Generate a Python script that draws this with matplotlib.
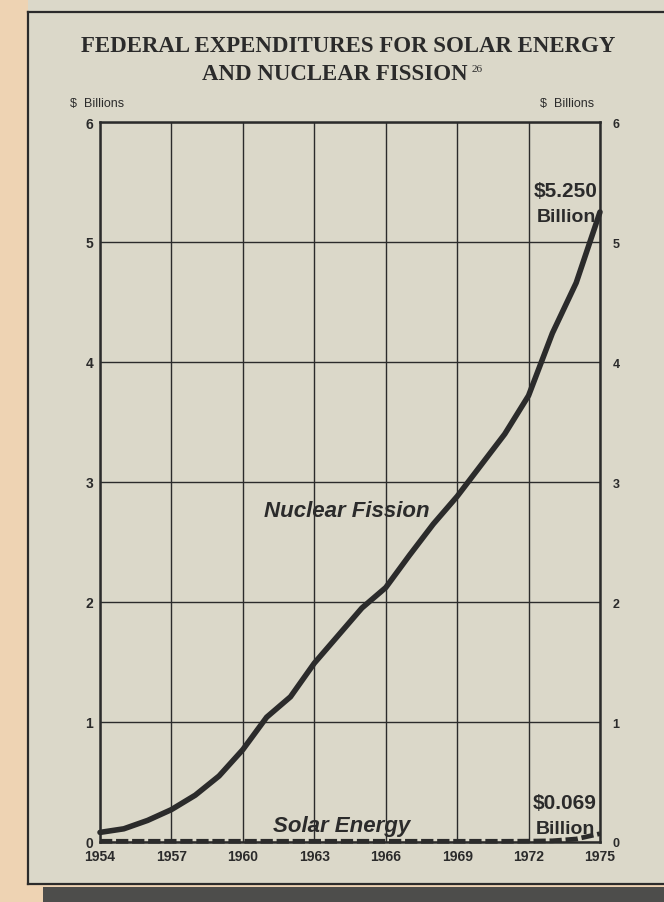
import numpy as np
import matplotlib.pyplot as plt
from matplotlib.patches import Rectangle
from matplotlib.lines import Line2D

years = list(range(1954, 1976))
nuclear = [0.08, 0.11, 0.18, 0.27, 0.39, 0.55, 0.77, 1.04, 1.21, 1.49, 1.72,
           1.95, 2.12, 2.39, 2.65, 2.88, 3.14, 3.40, 3.72, 4.24, 4.66, 5.25]
solar = [0.006] * 18 + [0.007, 0.010, 0.025, 0.069]
xticks = [1954, 1957, 1960, 1963, 1966, 1969, 1972, 1975]
yticks = [0, 1, 2, 3, 4, 5, 6]

W, H = 664, 903
ink = '#2b2b2b'
paper = '#dbd8c9'

fig = plt.figure(figsize=(W / 100, H / 100), dpi=100, facecolor='#eed3b3')


def fx(px):
    return px / W


def fy(py):
    return 1 - py / H


# page / box behind the chart
fig.patches.append(Rectangle((fx(28), fy(885)), 1 - fx(28), fy(0) - fy(885),
                             transform=fig.transFigure, facecolor=paper,
                             edgecolor='none', zorder=-10))
fig.patches.append(Rectangle((fx(43), 0), 1 - fx(43), fy(888),
                             transform=fig.transFigure, facecolor='#4d4d4b',
                             edgecolor='none', zorder=-10))
for xs, ys in [([28, 28], [13, 885]), ([28, 664], [13, 13]), ([28, 664], [885, 885])]:
    fig.lines.append(Line2D([fx(x) for x in xs], [fy(y) for y in ys],
                            transform=fig.transFigure, color=ink, lw=1.6, zorder=-5))

ax = fig.add_axes([fx(100), fy(843), fx(600) - fx(100), fy(123) - fy(843)])
ax.set_facecolor('none')
ax.set_xlim(1954, 1975)
ax.set_ylim(0, 6)
ax.set_xticks(xticks)
ax.set_yticks(yticks)
ax.grid(True, color=ink, lw=1.0)
ax.set_axisbelow(True)
for s in ax.spines.values():
    s.set_color(ink)
    s.set_linewidth(1.8)
ax.tick_params(length=0, colors=ink, pad=5)
for lab in ax.get_xticklabels() + ax.get_yticklabels():
    lab.set_fontsize(10)
    lab.set_fontweight('bold')
    lab.set_family('Liberation Sans')

ax2 = ax.twinx()
ax2.set_ylim(0, 6)
ax2.set_yticks(yticks)
ax2.tick_params(length=0, colors=ink, pad=9)
for lab in ax2.get_yticklabels():
    lab.set_fontsize(9)
    lab.set_family('Liberation Sans')
    lab.set_fontweight('bold')
for s in ax2.spines.values():
    s.set_visible(False)

ax.plot(years, nuclear, color=ink, lw=4, solid_joinstyle='round',
        solid_capstyle='round', clip_on=False, zorder=5)
ax.plot(years, solar, color=ink, lw=3.4, dashes=(2.6, 0.8), clip_on=False, zorder=5)

ax.text(1964.37, 2.76, 'Nuclear Fission', fontsize=16, fontweight='bold',
        style='italic', family='Liberation Sans', color=ink, ha='center', va='center')
ax.text(1964.16, 0.14, 'Solar Energy', fontsize=16, fontweight='bold',
        style='italic', family='Liberation Sans', color=ink, ha='center', va='center')

ax.text(1973.57, 5.43, '$5.250', fontsize=15, fontweight='bold', family='Liberation Sans',
        color=ink, ha='center', va='center')
ax.text(1973.57, 5.21, 'Billion', fontsize=14, fontweight='bold', family='Liberation Sans',
        color=ink, ha='center', va='center')
ax.text(1973.53, 0.33, '$0.069', fontsize=15, fontweight='bold', family='Liberation Sans',
        color=ink, ha='center', va='center')
ax.text(1973.53, 0.11, 'Billion', fontsize=14, fontweight='bold', family='Liberation Sans',
        color=ink, ha='center', va='center')

fig.text(fx(348), fy(47), 'FEDERAL EXPENDITURES FOR SOLAR ENERGY', fontsize=16.5,
         fontweight='bold', family='Liberation Serif', color=ink, ha='center', va='center')
t2 = fig.text(fx(335), fy(75), 'AND NUCLEAR FISSION', fontsize=16.5,
              fontweight='bold', family='Liberation Serif', color=ink, ha='center', va='center')
ax.annotate('26', xy=(1, 0.75), xycoords=t2, xytext=(3, 0), textcoords='offset points',
            fontsize=8, family='Liberation Serif', color=ink, ha='left', va='center',
            annotation_clip=False)

fig.text(fx(70), fy(104), '$  Billions', fontsize=9, family='Liberation Sans',
         color=ink, ha='left', va='center')
fig.text(fx(540), fy(104), '$  Billions', fontsize=9, family='Liberation Sans',
         color=ink, ha='left', va='center')

fig.savefig('out.png', dpi=100, facecolor=fig.get_facecolor())
